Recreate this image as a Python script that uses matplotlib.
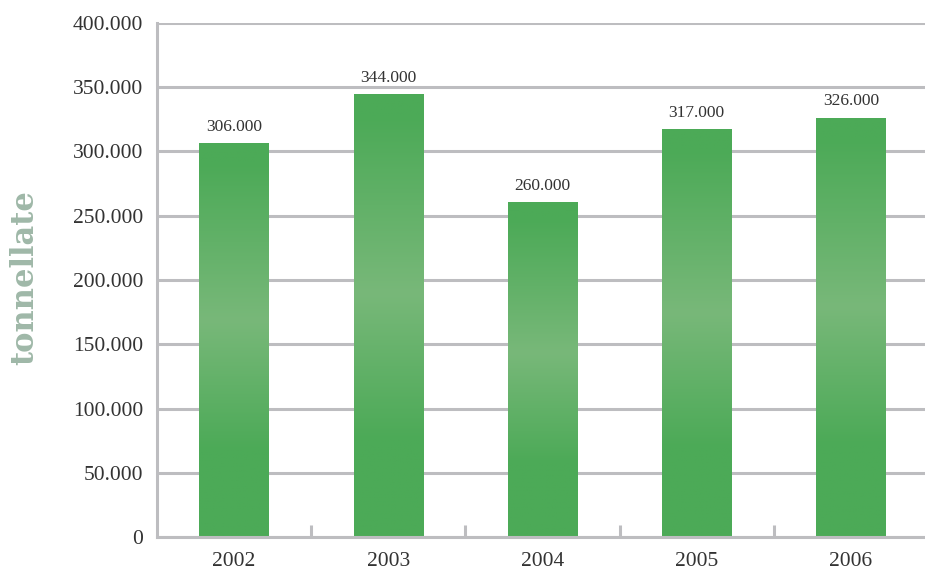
import matplotlib.pyplot as plt
import numpy as np
from matplotlib.colors import LinearSegmentedColormap

years = ["2002", "2003", "2004", "2005", "2006"]
tonnes = [306000, 344000, 260000, 317000, 326000]
value_labels = ["306.000", "344.000", "260.000", "317.000", "326.000"]
yticks = [0, 50000, 100000, 150000, 200000, 250000, 300000, 350000, 400000]
ytick_labels = ["0", "50.000", "100.000", "150.000", "200.000",
                "250.000", "300.000", "350.000", "400.000"]

DARK = "#4caa57"
LIGHT = "#78b879"
GRID = "#bdbdc0"
TEXT = "#333333"
SERIF = ["Liberation Serif", "DejaVu Serif"]

fig = plt.figure(figsize=(9.25, 5.76), dpi=100)
ax = fig.add_axes([157 / 925, 39 / 576, 771 / 925, 514 / 576])

x = np.arange(len(years))
w = 0.45
cmap = LinearSegmentedColormap.from_list(
    "bar", [(0.0, DARK), (0.22, DARK), (0.55, LIGHT), (0.95, DARK), (1.0, DARK)])
grad = np.linspace(0, 1, 256).reshape(-1, 1)

bars = ax.bar(x, tonnes, width=w, color="none", zorder=2)
for b, v, lab in zip(bars, tonnes, value_labels):
    x0 = b.get_x()
    ax.imshow(grad, cmap=cmap, aspect="auto", origin="lower",
              extent=(x0, x0 + w, 0, v), zorder=2)
    ax.text(b.get_x() + w / 2, v + 7000, lab, ha="center", va="bottom",
            fontsize=12.5, color=TEXT, family=SERIF)

ax.set_xlim(-0.5, 4.5)
ax.set_ylim(0, 400000)
ax.set_yticks(yticks)
ax.set_yticklabels(ytick_labels, family=SERIF, fontsize=15.5, color=TEXT)
ax.set_xticks(x)
ax.set_xticklabels(years, family=SERIF, fontsize=15.5, color=TEXT)
ax.tick_params(axis="y", length=0, pad=10)
ax.tick_params(axis="x", length=0, pad=11)
ax.set_xticks(x[:-1] + 0.5, minor=True)
ax.tick_params(axis="x", which="minor", direction="in", length=9,
               width=2.2, color=GRID)

ax.grid(True, axis="y", color=GRID, linewidth=2.2, zorder=0)
ax.set_axisbelow(True)
for s in ["top", "right"]:
    ax.spines[s].set_visible(False)
for s in ["left", "bottom"]:
    ax.spines[s].set_color(GRID)
    ax.spines[s].set_linewidth(2.2)

fig.text(25 / 925, 298 / 576, "tonnellate", rotation=90, ha="center",
         va="center", fontsize=22, fontweight="bold", color="#9fb8a8",
         family=["DejaVu Serif"])

fig.savefig("out.png", dpi=100)
